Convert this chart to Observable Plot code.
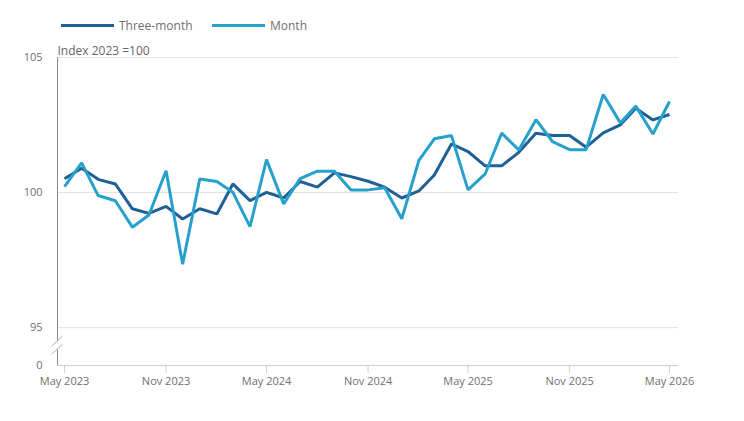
<!DOCTYPE html>
<html>
<head>
<meta charset="utf-8">
<script src="https://cdn.jsdelivr.net/npm/d3@7"></script>
<script src="https://cdn.jsdelivr.net/npm/@observablehq/plot@0.6"></script>
<style>
  body { margin: 0; background: #fff; font-family: "Open Sans", sans-serif; }
  #legend { height: 40px; position: relative; font-size: 12px; color: #707070; }
  .item { position: absolute; top: 16px; display: flex; align-items: center; height: 18px; }
  .sw { width: 53px; height: 3px; margin-right: 5px; }
</style>
</head>
<body>
<div id="legend"></div>
<div id="chart"></div>
<script>
const months = [
  "2023-05","2023-06","2023-07","2023-08","2023-09","2023-10","2023-11","2023-12",
  "2024-01","2024-02","2024-03","2024-04","2024-05","2024-06","2024-07","2024-08",
  "2024-09","2024-10","2024-11","2024-12","2025-01","2025-02","2025-03","2025-04",
  "2025-05","2025-06","2025-07","2025-08","2025-09","2025-10","2025-11","2025-12",
  "2026-01","2026-02","2026-03","2026-04","2026-05"
];
const threeMonth = [
  100.51, 100.90, 100.49, 100.32, 99.40, 99.23, 99.49, 99.02, 99.40, 99.21,
  100.32, 99.70, 100.01, 99.80, 100.41, 100.20, 100.73, 100.59, 100.42, 100.20,
  99.80, 100.06, 100.65, 101.80, 101.52, 100.99, 100.99, 101.49, 102.20, 102.11,
  102.11, 101.68, 102.21, 102.51, 103.12, 102.69, 102.89
];
const month = [
  100.22, 101.10, 99.89, 99.70, 98.72, 99.17, 100.81, 97.35, 100.50, 100.41,
  100.01, 98.74, 101.22, 99.58, 100.52, 100.79, 100.79, 100.10, 100.10, 100.18,
  99.03, 101.19, 101.99, 102.11, 100.10, 100.69, 102.20, 101.58, 102.70, 101.89,
  101.59, 101.59, 103.63, 102.58, 103.20, 102.17, 103.37
];
const seriesNames = ["Three-month", "Month"];
const seriesColors = ["#206095", "#27a0cc"];
const xTicks = ["2023-05","2023-11","2024-05","2024-11","2025-05","2025-11","2026-05"];
const yTicks = [93.6, 95, 100, 105];
const yTickLabels = ["0", "95", "100", "105"];
const yDomain = [93.6, 105];
const yBreak = 94.33;
const yAxisLabel = "Index 2023 =100";

const parse = d3.utcParse("%Y-%m");
const rows = [];
months.forEach((m, i) => {
  rows.push({date: parse(m), value: threeMonth[i], series: seriesNames[0]});
  rows.push({date: parse(m), value: month[i], series: seriesNames[1]});
});

// legend
const legend = d3.select("#legend");
const legendLeft = [61, 212];
seriesNames.forEach((name, i) => {
  const it = legend.append("div").attr("class", "item").style("left", legendLeft[i] + "px");
  it.append("div").attr("class", "sw").style("background", seriesColors[i]);
  it.append("span").text(name);
});

function brokenAxis(index, {y}, values, {marginLeft, height, marginBottom}) {
  const g = d3.create("svg:g");
  const x0 = marginLeft + 0.5;
  const yb = y(yBreak);
  g.append("line").attr("x1", x0).attr("x2", x0)
    .attr("y1", y(yDomain[1])).attr("y2", yb - 4).attr("stroke", "#8a8a8a");
  g.append("line").attr("x1", x0).attr("x2", x0)
    .attr("y1", yb + 4).attr("y2", y(yDomain[0])).attr("stroke", "#8a8a8a");
  for (const d of [-4, 4]) {
    g.append("line").attr("x1", x0 - 6).attr("y1", yb + d + 5)
      .attr("x2", x0 + 5).attr("y2", yb + d - 5)
      .attr("stroke", "#b0b0b0").attr("stroke-width", 1);
  }
  return g.node();
}

const fmtTick = d3.utcFormat("%b %Y");
const chart = Plot.plot({
  width: 744,
  height: 381,
  marginLeft: 57,
  marginRight: 66,
  marginTop: 17,
  marginBottom: 56,
  style: {fontFamily: "Open Sans, sans-serif", fontSize: "11px", color: "#707070", background: "white"},
  x: {type: "utc", domain: [parse(months[0]), parse(months[months.length - 1])], insetLeft: 7, insetRight: 9},
  y: {domain: yDomain},
  color: {domain: seriesNames, range: seriesColors},
  marks: [
    Plot.ruleY([95, 100, 105], {stroke: "#e2e2e2"}),
    Plot.ruleY([yDomain[0]], {stroke: "#c9d0de"}),
    Plot.axisX({ticks: xTicks.map(parse), tickFormat: fmtTick, tickSize: 8, tickPadding: 4, stroke: "#c9d0de", fill: "#707070", label: null}),
    Plot.axisY({ticks: yTicks, tickFormat: (d, i) => yTickLabels[yTicks.indexOf(d)], tickSize: 0, tickPadding: 15, fill: "#707070", label: null}),
    brokenAxis,
    Plot.text([yAxisLabel], {frameAnchor: "top-left", textAnchor: "start", lineAnchor: "bottom", dy: -3, fontSize: 12, fill: "#666"}),
    Plot.line(rows, {x: "date", y: "value", stroke: "series", strokeWidth: 3, strokeLinejoin: "miter", strokeLinecap: "butt"})
  ]
});
document.getElementById("chart").appendChild(chart);
</script>
</body>
</html>
